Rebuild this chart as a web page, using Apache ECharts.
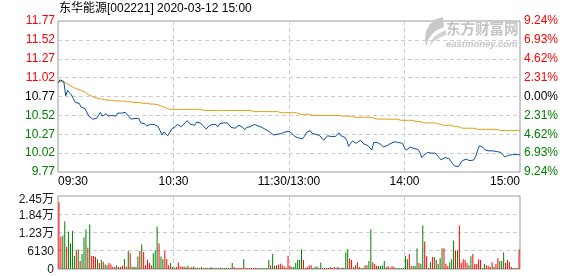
<!DOCTYPE html>
<html><head><meta charset="utf-8">
<script src="https://cdn.jsdelivr.net/npm/echarts@6/dist/echarts.min.js"></script>
<style>html,body{margin:0;padding:0;background:#fff}#c{width:578px;height:276px}</style>
</head><body><div id="c"></div>
<script>
const titleText = '东华能源[002221] 2020-03-12 15:00';
const timeLabels = ['09:30', '10:30', '11:30/13:00', '14:00', '15:00'];
const priceTicks = ['9.77', '10.02', '10.27', '10.52', '10.77', '11.02', '11.27', '11.52', '11.77'];
const pctTicks = ['9.24%', '6.93%', '4.62%', '2.31%', '0.00%', '2.31%', '4.62%', '6.93%', '9.24%'];
const volTicks = ['0', '6130', '1.23万', '1.84万', '2.45万'];
const priceMin = 9.77, priceMax = 11.77, volMax = 24500;

const price = [
10.95,10.99,11.00,10.97,10.78,10.85,10.82,10.79,10.74,10.69,
10.71,10.68,10.63,10.64,10.61,10.59,10.51,10.52,10.47,10.49,
10.48,10.50,10.56,10.51,10.51,10.54,10.51,10.52,10.52,10.54,
10.51,10.55,10.56,10.55,10.56,10.56,10.56,10.50,10.47,10.49,
10.48,10.49,10.48,10.42,10.43,10.41,10.38,10.40,10.40,10.40,
10.40,10.40,10.37,10.32,10.26,10.30,10.28,10.25,10.29,10.34,
10.36,10.37,10.40,10.39,10.37,10.37,10.42,10.45,10.43,10.40,
10.38,10.39,10.43,10.44,10.42,10.39,10.37,10.34,10.37,10.39,
10.40,10.39,10.40,10.37,10.41,10.40,10.42,10.42,10.42,10.40,
10.36,10.36,10.35,10.37,10.39,10.38,10.36,10.33,10.36,10.37,
10.37,10.38,10.40,10.40,10.38,10.36,10.36,10.36,10.33,10.31,
10.30,10.28,10.26,10.28,10.27,10.27,10.28,10.30,10.30,10.30,
10.31,10.29,10.27,10.24,10.22,10.22,10.22,10.21,10.24,10.29,
10.27,10.32,10.28,10.30,10.27,10.26,10.25,10.23,10.19,10.22,
10.25,10.25,10.24,10.22,10.24,10.25,10.29,10.25,10.24,10.23,
10.19,10.11,10.15,10.18,10.16,10.15,10.17,10.19,10.19,10.14,
10.12,10.12,10.11,10.06,10.16,10.18,10.16,10.15,10.13,10.10,
10.08,10.12,10.14,10.15,10.17,10.17,10.16,10.16,10.16,10.15,
10.09,10.06,10.07,10.10,10.12,10.08,10.07,10.07,10.03,9.96,
9.99,10.00,10.03,10.04,10.02,10.02,10.02,10.03,9.96,9.93,
9.95,9.96,9.96,9.95,9.93,9.88,9.85,9.85,9.84,9.86,
9.92,9.93,9.94,9.94,9.92,9.90,9.93,9.98,10.06,10.12,
10.14,10.09,10.06,10.05,10.05,10.06,10.05,10.05,10.04,10.05,
10.03,10.00,9.97,9.97,9.99,10.00,10.00,10.00,10.00,10.00,
10.00];

const avgPrice = [
10.96,10.97,10.97,10.96,10.95,10.94,10.92,10.90,10.89,10.88,
10.87,10.86,10.85,10.84,10.83,10.81,10.79,10.78,10.77,10.76,
10.75,10.74,10.74,10.73,10.73,10.72,10.72,10.72,10.72,10.71,
10.71,10.71,10.71,10.71,10.71,10.70,10.70,10.70,10.70,10.70,
10.69,10.69,10.69,10.69,10.68,10.68,10.68,10.67,10.67,10.67,
10.67,10.66,10.66,10.66,10.64,10.64,10.62,10.61,10.60,10.60,
10.60,10.60,10.60,10.60,10.60,10.60,10.60,10.60,10.60,10.60,
10.60,10.60,10.60,10.60,10.60,10.60,10.585,10.585,10.585,10.585,
10.585,10.585,10.585,10.585,10.585,10.585,10.585,10.585,10.585,10.585,
10.585,10.585,10.585,10.585,10.585,10.585,10.585,10.585,10.585,10.585,
10.585,10.585,10.57,10.57,10.57,10.57,10.57,10.57,10.57,10.57,
10.57,10.57,10.57,10.57,10.57,10.555,10.555,10.555,10.555,10.555,
10.555,10.555,10.555,10.555,10.555,10.535,10.535,10.535,10.535,10.535,
10.535,10.52,10.52,10.52,10.52,10.52,10.52,10.52,10.52,10.52,
10.52,10.52,10.52,10.52,10.52,10.52,10.52,10.52,10.51,10.51,
10.51,10.51,10.51,10.495,10.495,10.495,10.495,10.495,10.495,10.495,
10.495,10.495,10.495,10.485,10.485,10.485,10.47,10.47,10.47,10.47,
10.47,10.47,10.47,10.47,10.47,10.47,10.47,10.47,10.455,10.455,
10.455,10.455,10.455,10.455,10.455,10.44,10.44,10.44,10.44,10.44,
10.42,10.42,10.42,10.42,10.42,10.42,10.42,10.405,10.405,10.405,
10.39,10.39,10.39,10.39,10.39,10.37,10.37,10.37,10.37,10.35,
10.35,10.35,10.35,10.35,10.35,10.35,10.35,10.335,10.335,10.335,
10.335,10.335,10.335,10.335,10.335,10.335,10.335,10.335,10.335,10.32,
10.32,10.32,10.32,10.32,10.32,10.32,10.32,10.32,10.32,10.32,
10.32];

const volume = [
22500,10800,11260,15900,7500,12600,8600,12800,4400,6300,
6600,2650,5000,10600,13250,7200,14900,4400,4400,4100,
3300,2000,3000,2400,1550,1300,2000,1550,770,660,
1300,660,660,1100,3300,880,6000,5300,770,770,
660,4200,6000,8300,5700,1300,3100,2000,1300,5300,
6300,14240,8600,4200,3300,6000,3300,1300,2000,660,
440,660,2200,880,880,880,550,1100,440,660,
880,440,440,330,660,330,440,440,330,660,
330,440,330,330,440,330,330,440,330,330,
2000,660,330,440,330,440,3300,440,330,330,
330,330,330,330,330,330,330,330,330,3000,
1300,5000,1100,1300,1550,1770,1300,880,440,4400,
1000,660,660,2000,3000,3000,6600,3000,330,660,
1300,1300,330,660,880,440,2200,330,330,330,
330,660,440,660,440,660,330,440,440,5600,
6600,3500,3000,550,1300,2300,660,330,440,1300,
1300,2650,13250,2300,1650,1000,1000,1000,1300,2650,
660,1000,330,1000,660,330,330,330,330,330,
4400,3300,5000,1000,1000,1000,7000,2000,1650,14570,
9270,4300,330,2300,4000,4000,3000,1650,3600,7000,
7000,1650,1000,2300,3300,9600,6300,6300,14570,2000,
3300,3000,2000,1300,4300,5000,1650,1650,3300,3000,
330,1650,1300,1000,660,2300,660,1650,3600,2650,
2650,5600,2000,3000,2300,660,330,330,330,6600];

const volUp = [
1,1,0,0,1,0,0,0,0,1,
0,1,0,0,0,1,0,1,1,1,
0,1,0,1,0,0,1,1,1,1,
0,1,1,1,0,1,0,1,1,0,
0,0,1,0,1,1,1,1,1,0,
0,0,1,0,0,1,1,1,0,1,
0,1,1,1,1,0,1,0,1,1,
0,1,0,0,1,0,1,0,1,0,
1,0,0,1,0,1,0,0,1,0,
0,1,1,1,1,1,0,1,1,1,
0,1,1,0,1,0,0,1,0,0,
1,0,1,0,1,1,1,1,0,1,
1,0,0,0,0,0,0,1,0,1,
1,1,0,0,0,1,0,1,0,1,
1,0,1,1,1,0,1,1,0,0,
0,1,1,1,0,1,1,0,1,0,
1,0,0,1,1,1,0,0,0,0,
1,1,0,1,1,0,0,0,1,0,
0,0,1,1,0,0,0,1,0,0,
1,1,1,0,1,0,1,0,0,0,
1,1,1,0,0,0,1,0,1,1,
1,1,1,0,0,1,1,1,1,1,
0,0,1,1,1,1,0,1,1,0,
0,0,1,1,1,1,0,1,0,1];

const FONT = '"Liberation Sans", "Noto Sans CJK SC", sans-serif';
const RED = '#ff0000', GREEN = '#008000', DARK = '#000000';
const GRID_LINE = { color: '#cccccc', width: 1, type: [4, 3] };

const minuteCats = price.map((_, i) => String(i));
const volCats = volume.map((_, i) => String(i));
const volData = volume.map((v, i) => ({ value: v, itemStyle: { color: volUp[i] ? RED : GREEN } }));

function sideColor(i) { return i < 4 ? GREEN : (i === 4 ? DARK : RED); }

const chart = echarts.init(document.getElementById('c'), null, { renderer: 'canvas' });
chart.setOption({
  animation: false,
  backgroundColor: '#ffffff',
  textStyle: { fontFamily: FONT },
  title: {
    text: titleText, left: 59, top: 3, padding: 0,
    textStyle: { fontSize: 12, fontWeight: 'normal', color: '#000', fontFamily: FONT }
  },
  graphic: [
    { type: 'polygon', silent: true, shape: { points: [[443,17],[436,19],[430,24],[426,31],[425,39],[426,47],[428,40],[432,34],[437,30],[444,27]] }, style: { fill: '#c9c9c9' } },
    { type: 'polygon', silent: true, shape: { points: [[446,30],[440,33],[434,37],[431,42],[430,46],[434,41],[439,38],[446,35]] }, style: { fill: '#d2d2d2' } },
    { type: 'text', left: 446, top: 21, silent: true, style: { text: '东方财富网', font: 'bold 14.5px "Noto Sans CJK SC"', fill: '#c4c4c4' } },
    { type: 'text', left: 446, top: 39, silent: true, style: { text: 'eastmoney.com', font: 'italic bold 9.5px "Liberation Sans"', fill: '#c4c4c4' } }
  ],
  grid: [
    { left: 58, top: 21, width: 462, height: 151, show: true, borderColor: '#999', borderWidth: 1, backgroundColor: 'transparent' },
    { left: 58, top: 196, width: 462, height: 74, show: true, borderColor: '#999', borderWidth: 1, backgroundColor: 'transparent' }
  ],
  xAxis: [
    {
      type: 'category', gridIndex: 0, data: minuteCats, boundaryGap: false,
      axisLine: { show: false }, axisTick: { show: false },
      axisLabel: {
        interval: (i) => i % 60 === 0, margin: 4, fontSize: 12, fontFamily: FONT, color: '#000',
        formatter: (v, i) => {
          const k = Number(v) / 60;
          if (k === 0) return '{l|' + timeLabels[0] + '}';
          if (k === 4) return '{r|' + timeLabels[4] + '}';
          return timeLabels[k];
        },
        rich: {
          l: { padding: [0, 0, 0, 30], fontSize: 12, fontFamily: FONT, color: '#000' },
          r: { padding: [0, 30, 0, 0], fontSize: 12, fontFamily: FONT, color: '#000' }
        }
      },
      splitLine: { show: true, interval: (i) => i % 60 === 0 && i > 0 && i < 240, lineStyle: GRID_LINE }
    },
    {
      type: 'category', gridIndex: 1, data: volCats, boundaryGap: true,
      axisLine: { show: false }, axisTick: { show: false }, axisLabel: { show: false },
      splitLine: { show: true, interval: (i) => i % 60 === 0 && i > 0, lineStyle: GRID_LINE }
    }
  ],
  yAxis: [
    { type: 'value', gridIndex: 0, min: priceMin, max: priceMax, show: false, splitLine: { show: false } },
    {
      type: 'category', gridIndex: 0, data: priceTicks, boundaryGap: false, position: 'left',
      axisLine: { show: false }, axisTick: { show: false },
      axisLabel: { interval: 0, margin: 3, fontSize: 12, fontFamily: FONT, color: (v, i) => sideColor(i) },
      splitLine: { show: true, interval: (i) => i > 0 && i < 8, lineStyle: GRID_LINE }
    },
    {
      type: 'category', gridIndex: 0, data: pctTicks, boundaryGap: false, position: 'right',
      axisLine: { show: false }, axisTick: { show: false },
      axisLabel: { interval: 0, margin: 4, fontSize: 12, fontFamily: FONT, color: (v, i) => sideColor(i) },
      splitLine: { show: false }
    },
    { type: 'value', gridIndex: 1, min: 0, max: volMax, show: false, splitLine: { show: false } },
    {
      type: 'category', gridIndex: 1, data: volTicks, boundaryGap: false, position: 'left',
      axisLine: { show: false }, axisTick: { show: false },
      axisLabel: {
        interval: 0, margin: 4, fontSize: 12, fontFamily: FONT, color: '#1a1a1a',
        formatter: (v, i) => (i === 4 ? '{t|' + v + '}' : '{n|' + v + '}'),
        rich: {
          t: { padding: [7, 0, 0, 0], fontSize: 12, fontFamily: FONT, color: '#1a1a1a' },
          n: { padding: [2, 0, 0, 0], fontSize: 12, fontFamily: FONT, color: '#1a1a1a' }
        }
      },
      splitLine: { show: true, interval: (i) => i > 0 && i < 4, lineStyle: GRID_LINE }
    }
  ],
  series: [
    { type: 'line', name: 'avg', xAxisIndex: 0, yAxisIndex: 0, data: avgPrice, showSymbol: false, symbol: 'none',
      lineStyle: { color: '#dca012', width: 1 }, silent: true },
    { type: 'line', name: 'price', xAxisIndex: 0, yAxisIndex: 0, data: price, showSymbol: false, symbol: 'none',
      lineStyle: { color: '#0a4ea0', width: 1 }, silent: true },
    { type: 'bar', name: 'vol', xAxisIndex: 1, yAxisIndex: 3, data: volData, barWidth: 1, silent: true }
  ]
});
</script>
</body></html>
